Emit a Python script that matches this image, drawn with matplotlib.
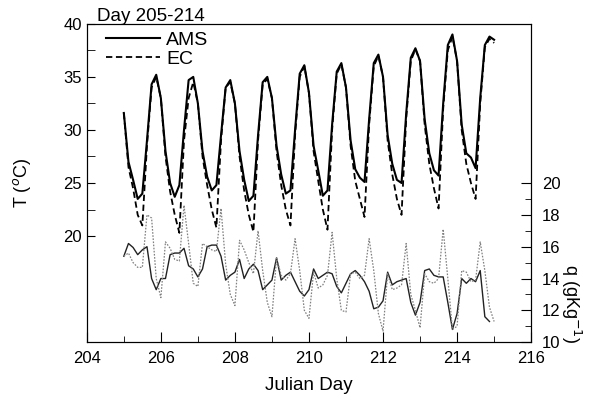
"""AMS vs EC air temperature and specific humidity, Julian day 205-214."""
import matplotlib
matplotlib.use("Agg")
import matplotlib.pyplot as plt
import numpy as np

plt.rcParams["font.family"] = ["Liberation Sans", "DejaVu Sans"]

# 3-hourly samples, day 205.0 .. 215.0
t = 205 + np.arange(81) / 8.0

T_ams = [
    31.6, 27.0, 25.3, 23.5, 24.0, 29.0, 34.3, 35.2,
    33.0, 28.0, 25.0, 23.7, 24.8, 30.0, 34.7, 35.0,
    32.5, 28.0, 25.6, 24.3, 24.8, 29.5, 34.0, 34.7,
    32.5, 28.0, 25.3, 23.3, 23.8, 29.5, 34.5, 35.0,
    33.0, 28.5, 25.8, 24.0, 24.3, 30.0, 35.3, 36.1,
    33.5, 28.5, 26.2, 23.8, 24.3, 30.5, 35.5, 36.3,
    34.0, 29.0, 26.3, 25.5, 25.1, 31.0, 36.3, 37.1,
    35.0, 29.5, 26.8, 25.3, 25.0, 31.5, 36.8, 37.7,
    36.5, 31.0, 27.8, 26.2, 25.7, 32.5, 38.0, 39.0,
    36.5, 30.5, 27.8, 27.4, 26.4, 33.0, 38.0, 38.8,
    38.5,
]
T_ec = [
    31.6, 26.5, 24.5, 22.0, 21.0, 28.5, 34.0, 35.0,
    33.0, 27.5, 24.2, 22.0, 20.3, 29.0, 33.0, 34.5,
    32.5, 27.5, 24.8, 22.5, 20.8, 29.0, 34.0, 34.5,
    32.5, 27.5, 24.3, 22.0, 20.4, 29.0, 34.3, 34.8,
    33.0, 28.0, 24.8, 22.5, 21.0, 29.5, 35.0, 36.0,
    33.5, 28.0, 25.2, 22.5, 20.6, 30.0, 35.3, 36.2,
    34.0, 28.5, 25.2, 23.5, 21.8, 30.5, 36.0, 37.0,
    35.0, 29.0, 25.8, 23.5, 22.0, 31.0, 36.5, 37.6,
    36.5, 30.5, 26.8, 24.5, 22.6, 32.0, 37.5, 38.8,
    36.5, 30.0, 26.8, 25.0, 23.5, 32.5, 37.8, 38.6,
    38.2,
]
q_ams = [
    15.4, 16.2, 15.95, 15.5, 15.8, 16.0, 14.0, 13.3,
    14.0, 14.0, 15.5, 15.6, 15.6, 15.9, 14.8, 14.6,
    14.1, 14.6, 16.0, 16.1, 16.1, 15.4, 13.9, 14.2,
    14.4, 15.2, 14.0, 14.6, 14.9, 14.5, 13.3, 13.6,
    13.9, 15.3, 13.9, 14.2, 14.4, 13.8, 13.2, 12.9,
    13.3, 14.6, 14.0, 14.2, 14.4, 14.3, 13.5, 13.1,
    13.7, 14.3, 14.5, 14.2, 13.8, 13.2, 12.1, 12.2,
    12.6, 14.4, 13.6, 13.8, 13.9, 14.0, 12.5, 11.7,
    12.5, 14.5, 14.6, 14.2, 14.1, 14.1, 12.5, 10.8,
    11.8, 14.0, 13.7, 14.0, 13.8, 14.5, 11.6, 11.3,
    np.nan,
]
q_ec = [
    15.4, 15.6, 15.0, 14.7, 14.7, 18.0, 17.8, 14.0,
    12.8, 16.3, 15.9, 15.2, 15.1, 18.6, 16.2, 13.7,
    13.5, 16.2, 16.0, 15.8, 15.7, 18.4, 14.9, 13.0,
    12.3, 16.4, 15.8, 15.0, 14.3, 17.0, 14.5, 12.5,
    11.6, 15.3, 14.2, 13.9, 14.3, 16.5, 14.5, 12.0,
    11.5, 14.4, 13.4, 13.6, 14.2, 16.9, 14.0, 12.0,
    11.9, 14.3, 14.4, 14.0, 14.2, 16.5, 14.5, 11.8,
    10.7, 14.3, 13.3, 13.4, 13.6, 16.2, 13.0, 12.0,
    10.9, 14.3, 13.8, 13.7, 14.0, 17.1, 14.0, 10.8,
    11.0, 14.5, 14.4, 13.8, 13.9, 16.3, 14.5, 12.2,
    11.3,
]

fig = plt.figure(figsize=(6.07, 4.04), dpi=100)
ax = fig.add_axes([0.143, 0.153, 0.732, 0.788])
ax2 = ax.twinx()

ax.plot(t, T_ams, color="black", lw=1.5, label="AMS")
ax.plot(t, T_ec, color="black", lw=1.3, ls=(0, (3.5, 2)), label="EC")
ax2.plot(t, q_ams, color="#222222", lw=1.0)
ax2.plot(t, q_ec, color="#808080", lw=0.9, ls=(0, (1.3, 1.2)))

ax.set_xlim(204, 216)
ax.set_ylim(10, 40)
ax2.set_ylim(10, 30)

ax.set_xticks(np.arange(204, 217, 2))
ax.set_xticks(np.arange(205, 216, 2), minor=True)
ax.set_yticks([20, 25, 30, 35, 40])
ax.set_yticks([22.5, 27.5, 32.5, 37.5], minor=True)
ax2.set_yticks(np.arange(10, 21, 2))
ax2.set_yticks(np.arange(11, 20, 2), minor=True)

ax.tick_params(which="both", direction="in", labelsize=12)
ax.tick_params(axis="x", which="major", length=7, pad=6)
ax.tick_params(axis="x", which="minor", length=4)
ax.tick_params(axis="y", which="both", length=6)
ax2.tick_params(which="both", direction="in", labelsize=12, pad=8)
ax2.tick_params(which="major", length=7)
ax2.tick_params(which="minor", length=4)

ax.set_xlabel("Julian Day", fontsize=13.5, labelpad=8)
ax.set_ylabel(r"T ($^{o}$C)", fontsize=13, labelpad=22)
ax2.set_ylabel(r"q (gKg$^{-1}$)", fontsize=13, rotation=270, va="center")
ax2.yaxis.set_label_coords(1.09, 0.12)

ax.text(0.022, 0.995, "Day 205-214", transform=ax.transAxes, fontsize=13.5,
        ha="left", va="bottom")
ax.legend(loc="upper left", frameon=False, fontsize=14, handlelength=2.8,
          handletextpad=0.3, borderaxespad=0.0, labelspacing=0.05,
          bbox_to_anchor=(0.025, 1.0))

fig.savefig("out.png", dpi=100)
